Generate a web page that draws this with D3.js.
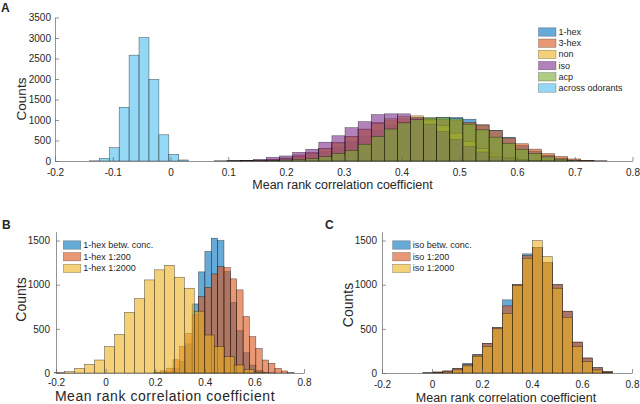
<!DOCTYPE html>
<html><head><meta charset="utf-8">
<script src="https://cdn.jsdelivr.net/npm/d3@7"></script>
<style>
body{margin:0;background:#fff}
text{font-family:"Liberation Sans",Arial,Helvetica,sans-serif;fill:#262626}
</style>
</head><body>
<svg id="chart" width="640" height="404"></svg>
<script>
// ---------- Panel A data ----------
const aEdges = [0.0754,0.0981,0.1208,0.1434,0.1661,0.1888,0.2115,0.2342,0.2568,0.2795,0.3022,0.3249,0.3476,0.3702,0.3929,0.4156,0.4383,0.4610,0.4836,0.5063,0.5290,0.5517,0.5744,0.5970,0.6197,0.6424,0.6651,0.6878,0.7104,0.7331,0.7558];
const aHex1  = [0,2,5,12,25,50,95,150,230,340,470,610,740,860,950,1000,1040,1060,1060,1020,880,750,580,380,240,140,70,25,7,1];
const aHex3  = [1,3,8,20,40,75,148,213,311,451,599,779,943,1000,1030,1040,1030,1020,1000,940,880,740,560,420,290,180,110,50,18,5];
const aNon   = [0,2,6,15,30,60,110,190,300,440,600,770,920,1030,1090,1100,1000,860,680,480,300,170,85,40,15,5,1,0,0,0];
const aIso   = [2,5,15,40,91,123,213,287,459,615,812,959,1131,1150,1150,1060,900,720,530,360,220,120,60,25,10,4,1,0,0,0];
const aAcp   = [0,1,3,6,12,25,40,57,107,189,260,410,599,780,930,1010,1060,1060,1030,900,760,582,434,287,189,100,45,14,3,0];
const acrossEdges  = [-0.1405,-0.1233,-0.1061,-0.0889,-0.0717,-0.0545,-0.0373,-0.0201,-0.0029,0.0143,0.0315];
const acrossCounts = [5,66,327,1311,2582,3010,1992,639,164,25];
const aLegend = ["1-hex","3-hex","non","iso","acp","across odorants"];
const aYTicks = [0,500,1000,1500,2000,2500,3000,3500];
const xTicksA = [-0.2,-0.1,0,0.1,0.2,0.3,0.4,0.5,0.6,0.7,0.8];

// ---------- Panel B data ----------
const bEdgesBR = [0.1947,0.2204,0.2461,0.2718,0.2975,0.3232,0.3489,0.3746,0.4003,0.4260,0.4517,0.4774,0.5031,0.5288,0.5545,0.5802,0.6059,0.6316,0.6573,0.6830,0.7087,0.7344,0.7601];
const bBetw  = [3,8,15,50,130,330,782,1145,1376,1527,1500,1150,800,480,230,90,30,8,2,0,0,0];
const b200   = [10,25,55,150,300,450,658,865,971,1122,1205,1194,1066,941,639,412,279,147,110,53,23,5];
const bEdgesY = [-0.2052,-0.1650,-0.1248,-0.0846,-0.0444,-0.0042,0.0360,0.0762,0.1164,0.1566,0.1968,0.2370,0.2772,0.3174,0.3576,0.3978,0.4380,0.4782,0.5184,0.5586,0.5988,0.6390];
const b2000  = [5,15,53,98,147,300,438,688,843,1054,1168,1220,1085,960,700,430,300,185,90,40,10];
const bLegend = ["1-hex betw. conc.","1-hex 1:200","1-hex 1:2000"];

// ---------- Panel C data ----------
const cEdges = [-0.037,0.003,0.043,0.083,0.123,0.163,0.202,0.242,0.282,0.322,0.362,0.402,0.441,0.481,0.521,0.561,0.601,0.641,0.681,0.721];
const cBetw  = [2,11,23,53,110,212,336,514,828,1000,1349,1420,1250,1000,700,350,170,60,15];
const c200   = [2,11,23,53,98,205,336,514,760,1000,1330,1420,1250,1000,700,350,170,60,15];
const c2000  = [1,5,12,35,80,190,300,500,676,990,1300,1500,1319,960,631,299,128,34,5];
const cLegend = ["iso betw. conc.","iso 1:200","iso 1:2000"];
const bcYTicks = [0,500,1000,1500];
const xTicksBC = [-0.2,0,0.2,0.4,0.6,0.8];

// ---------- colours ----------
const C_BLUE="#0072BD", C_RED="#D95319", C_YEL="#EDB120", C_PUR="#7E2F8E", C_GRN="#77AC30", C_CYAN="#4DBEEE";

const svg = d3.select("#chart");
const fmt = d => String(d);

function panel(o){
  const g = svg.append("g");
  const x = d3.scaleLinear().domain([-0.2,0.8]).range(o.xr);
  const y = d3.scaleLinear().domain([0,o.ymax]).range(o.yr);
  o.series.forEach(s=>{
    g.append("g").selectAll("rect").data(s.counts).join("rect")
      .attr("x",(d,i)=>x(s.edges[i]))
      .attr("width",(d,i)=>x(s.edges[i+1])-x(s.edges[i]))
      .attr("y",d=>y(d))
      .attr("height",d=>y(0)-y(d))
      .attr("fill",s.color).attr("fill-opacity",0.6)
      .attr("stroke","#000").attr("stroke-opacity",0.65).attr("stroke-width",0.5);
  });
  const xa = d3.axisBottom(x).tickValues(o.xticks).tickSizeInner(-4).tickSizeOuter(0).tickPadding(o.xpad).tickFormat(fmt);
  const ya = d3.axisLeft(y).tickValues(o.yticks).tickSizeInner(-4).tickSizeOuter(0).tickPadding(o.ypad).tickFormat(d3.format("d"));
  const gx = g.append("g").attr("transform",`translate(0,${o.yr[0]})`).call(xa);
  const gy = g.append("g").attr("transform",`translate(${o.xr[0]},0)`).call(ya);
  [gx,gy].forEach(a=>{
    a.select(".domain").attr("stroke","#666").attr("stroke-width",0.7);
    a.selectAll(".tick line").attr("stroke","#666").attr("stroke-width",0.7);
    a.selectAll(".tick text").attr("font-size",10).attr("fill","#262626")
      .style("font-family","'Liberation Sans',Arial,sans-serif");
  });
  g.append("text").attr("x",o.xlab[0]).attr("y",o.xlab[1]).attr("text-anchor","middle")
    .attr("font-size",o.xlab[2]).attr("letter-spacing",o.xlab[3]||0)
    .text("Mean rank correlation coefficient");
  g.append("text").attr("transform",`translate(${o.ylab[0]},${o.ylab[1]}) rotate(-90)`)
    .attr("text-anchor","middle").attr("dominant-baseline","central")
    .attr("font-size",o.ylab[2]).text("Counts");
  g.append("text").attr("x",o.letter[0]).attr("y",o.letter[1]).attr("font-size",12)
    .attr("font-weight","bold").attr("fill","#000").text(o.letter[2]);
  const lg = g.append("g");
  o.legend.names.forEach((n,i)=>{
    const cy = o.legend.y0 + i*o.legend.dy;
    lg.append("rect").attr("x",o.legend.x).attr("y",cy-4.2).attr("width",17.5).attr("height",8.4)
      .attr("fill",o.legend.colors[i]).attr("fill-opacity",0.6)
      .attr("stroke","#000").attr("stroke-opacity",0.45).attr("stroke-width",0.5);
    lg.append("text").attr("x",o.legend.x+20).attr("y",cy).attr("dominant-baseline","central")
      .attr("font-size",9).attr("fill","#000").text(n);
  });
}

panel({
  xr:[55,632.5], yr:[161,17.5], ymax:3500, yticks:aYTicks, xticks:xTicksA, ypad:4, xpad:8,
  series:[
    {edges:aEdges,counts:aHex1,color:C_BLUE},
    {edges:aEdges,counts:aHex3,color:C_RED},
    {edges:aEdges,counts:aNon,color:C_YEL},
    {edges:aEdges,counts:aIso,color:C_PUR},
    {edges:aEdges,counts:aAcp,color:C_GRN},
    {edges:acrossEdges,counts:acrossCounts,color:C_CYAN}
  ],
  xlab:[342.5,189,12.5], ylab:[21,99,13.5], letter:[1,12,"A"],
  legend:{names:aLegend,colors:[C_BLUE,C_RED,C_YEL,C_PUR,C_GRN,C_CYAN],x:538.5,y0:32,dy:11.2}
});

panel({
  xr:[56,304], yr:[373,231.7], ymax:1600, yticks:bcYTicks, xticks:xTicksBC, ypad:6, xpad:6,
  series:[
    {edges:bEdgesBR,counts:bBetw,color:C_BLUE},
    {edges:bEdgesBR,counts:b200,color:C_RED},
    {edges:bEdgesY,counts:b2000,color:C_YEL}
  ],
  xlab:[165,401,14,0.55], ylab:[20.7,299.5,14], letter:[2,229,"B"],
  legend:{names:bLegend,colors:[C_BLUE,C_RED,C_YEL],x:63.3,y0:245,dy:11.7}
});

panel({
  xr:[382,632], yr:[373,231.7], ymax:1600, yticks:bcYTicks, xticks:xTicksBC, ypad:5, xpad:7.5,
  series:[
    {edges:cEdges,counts:cBetw,color:C_BLUE},
    {edges:cEdges,counts:c200,color:C_RED},
    {edges:cEdges,counts:c2000,color:C_YEL}
  ],
  xlab:[506,402,12.5], ylab:[347.5,305,14], letter:[325,229,"C"],
  legend:{names:cLegend,colors:[C_BLUE,C_RED,C_YEL],x:392.7,y0:245,dy:11.7}
});
</script>
</body></html>
